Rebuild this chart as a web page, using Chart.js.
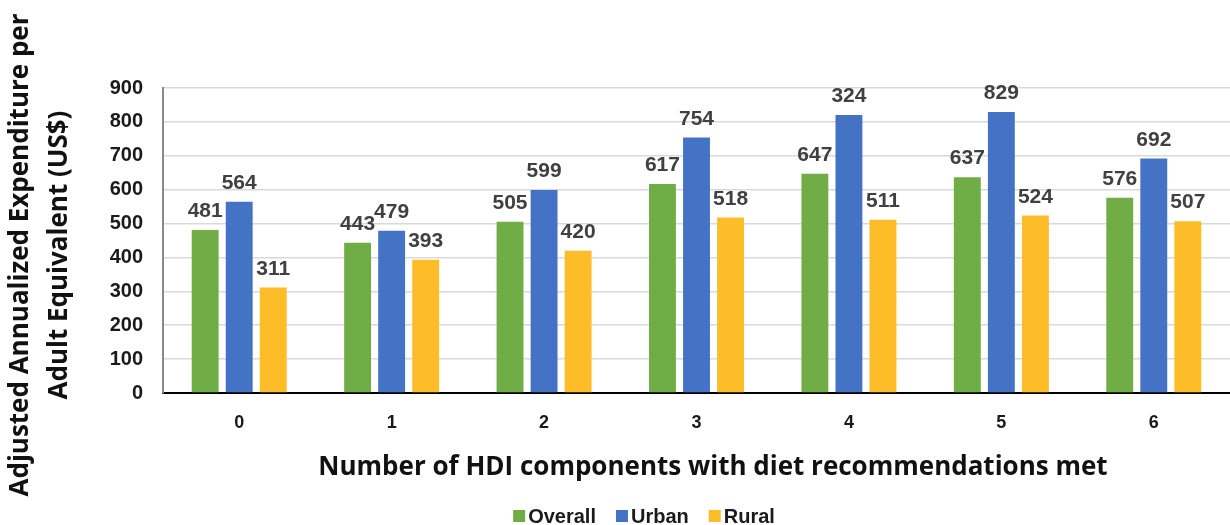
<!DOCTYPE html>
<html>
<head>
<meta charset="utf-8">
<script src="https://cdn.jsdelivr.net/npm/chart.js@4.4.1/dist/chart.umd.min.js"></script>
<style>
    html, body { margin: 0; padding: 0; background: #fff; }
    #wrap { width: 1230px; height: 525px; }
</style>
</head>
<body>
<div id="wrap"><canvas id="chart" width="1230" height="525"></canvas></div>
<script>
// Data
const categories = ['0', '1', '2', '3', '4', '5', '6'];
const overall = [481, 443, 505, 617, 647, 637, 576];
const urban = [564, 479, 599, 754, 820, 829, 692];
const rural = [311, 393, 420, 518, 511, 524, 507];

// Labels as printed on the figure (the urban bar at 4 is labelled 324)
const overallLabels = ['481', '443', '505', '617', '647', '637', '576'];
const urbanLabels = ['564', '479', '599', '754', '324', '829', '692'];
const ruralLabels = ['311', '393', '420', '518', '511', '524', '507'];

const yMin = 0;
const yMax = 900;
const yStep = 100;

const yTitle = ['Adjusted Annualized Expenditure per', 'Adult Equivalent (US$)'];
const xTitle = 'Number of HDI components with diet recommendations met';

const titleFont = 'bold 26px "Open Sans", Lato, sans-serif';
const numFont = '"Liberation Sans", Arial, sans-serif';

// value labels above each bar
const barLabels = {
    id: 'barLabels',
    afterDatasetsDraw(chart) {
        const ctx = chart.ctx;
        ctx.save();
        ctx.font = 'bold 21px ' + numFont;
        ctx.fillStyle = '#404040';
        ctx.textAlign = 'center';
        ctx.textBaseline = 'bottom';
        chart.data.datasets.forEach((ds, di) => {
            const meta = chart.getDatasetMeta(di);
            meta.data.forEach((bar, i) => {
                ctx.fillText(ds.shownLabels[i], bar.x, bar.y - 8);
            });
        });
        ctx.restore();
    }
};

// axis titles and legend, placed like in the figure
const titlesAndLegend = {
    id: 'titlesAndLegend',
    afterDraw(chart) {
        const ctx = chart.ctx;
        ctx.save();
        ctx.fillStyle = '#111';
        ctx.font = titleFont;
        ctx.textAlign = 'center';
        ctx.textBaseline = 'middle';

        // y title, rotated
        ctx.save();
        ctx.translate(0, 255);
        ctx.rotate(-Math.PI / 2);
        ctx.fillText(yTitle[0], 0, 21);
        ctx.fillText(yTitle[1], 0, 60);
        ctx.restore();

        // x title
        ctx.fillText(xTitle, 713, 468);

        // legend
        ctx.font = 'bold 20px ' + numFont;
        const box = 12;
        const gap = 3;
        const spacing = 20;
        const items = chart.data.datasets.map(ds => ({
            text: ds.label,
            color: ds.backgroundColor,
            w: box + gap + ctx.measureText(ds.label).width
        }));
        const total = items.reduce((s, it) => s + it.w, 0) + spacing * (items.length - 1);
        let x = 644 - total / 2;
        const y = 516;
        ctx.textAlign = 'left';
        items.forEach(it => {
            ctx.fillStyle = it.color;
            ctx.fillRect(x, y - box / 2, box, box);
            ctx.fillStyle = '#1a1a1a';
            ctx.fillText(it.text, x + box + gap, y + 1);
            x += it.w + spacing;
        });
        ctx.restore();
    }
};

const ctx = document.getElementById('chart').getContext('2d');
new Chart(ctx, {
    type: 'bar',
    data: {
        labels: categories,
        datasets: [
            { label: 'Overall', data: overall, shownLabels: overallLabels, backgroundColor: '#70ad47' },
            { label: 'Urban', data: urban, shownLabels: urbanLabels, backgroundColor: '#4472c4' },
            { label: 'Rural', data: rural, shownLabels: ruralLabels, backgroundColor: '#fdbd28' }
        ]
    },
    options: {
        responsive: false,
        animation: false,
        devicePixelRatio: 1,
        categoryPercentage: 0.67,
        barPercentage: 0.79,
        layout: { padding: { top: 88, right: 0, bottom: 0, left: 0 } },
        plugins: {
            legend: { display: false },
            tooltip: { enabled: false }
        },
        scales: {
            x: {
                afterFit(scale) { scale.height = 132; },
                grid: { display: false, drawTicks: false },
                border: { color: '#000', width: 2 },
                ticks: {
                    padding: 19,
                    color: '#1a1a1a',
                    font: { family: numFont, size: 18, weight: 'bold' }
                }
            },
            y: {
                min: yMin,
                max: yMax,
                afterFit(scale) { scale.width = 163; },
                grid: { color: '#d9d9d9', lineWidth: 1.5, drawTicks: false },
                border: { color: '#898989', width: 2 },
                ticks: {
                    stepSize: yStep,
                    padding: 20,
                    color: '#1a1a1a',
                    font: { family: numFont, size: 20, weight: 'bold' }
                }
            }
        }
    },
    plugins: [barLabels, titlesAndLegend]
});
</script>
</body>
</html>
